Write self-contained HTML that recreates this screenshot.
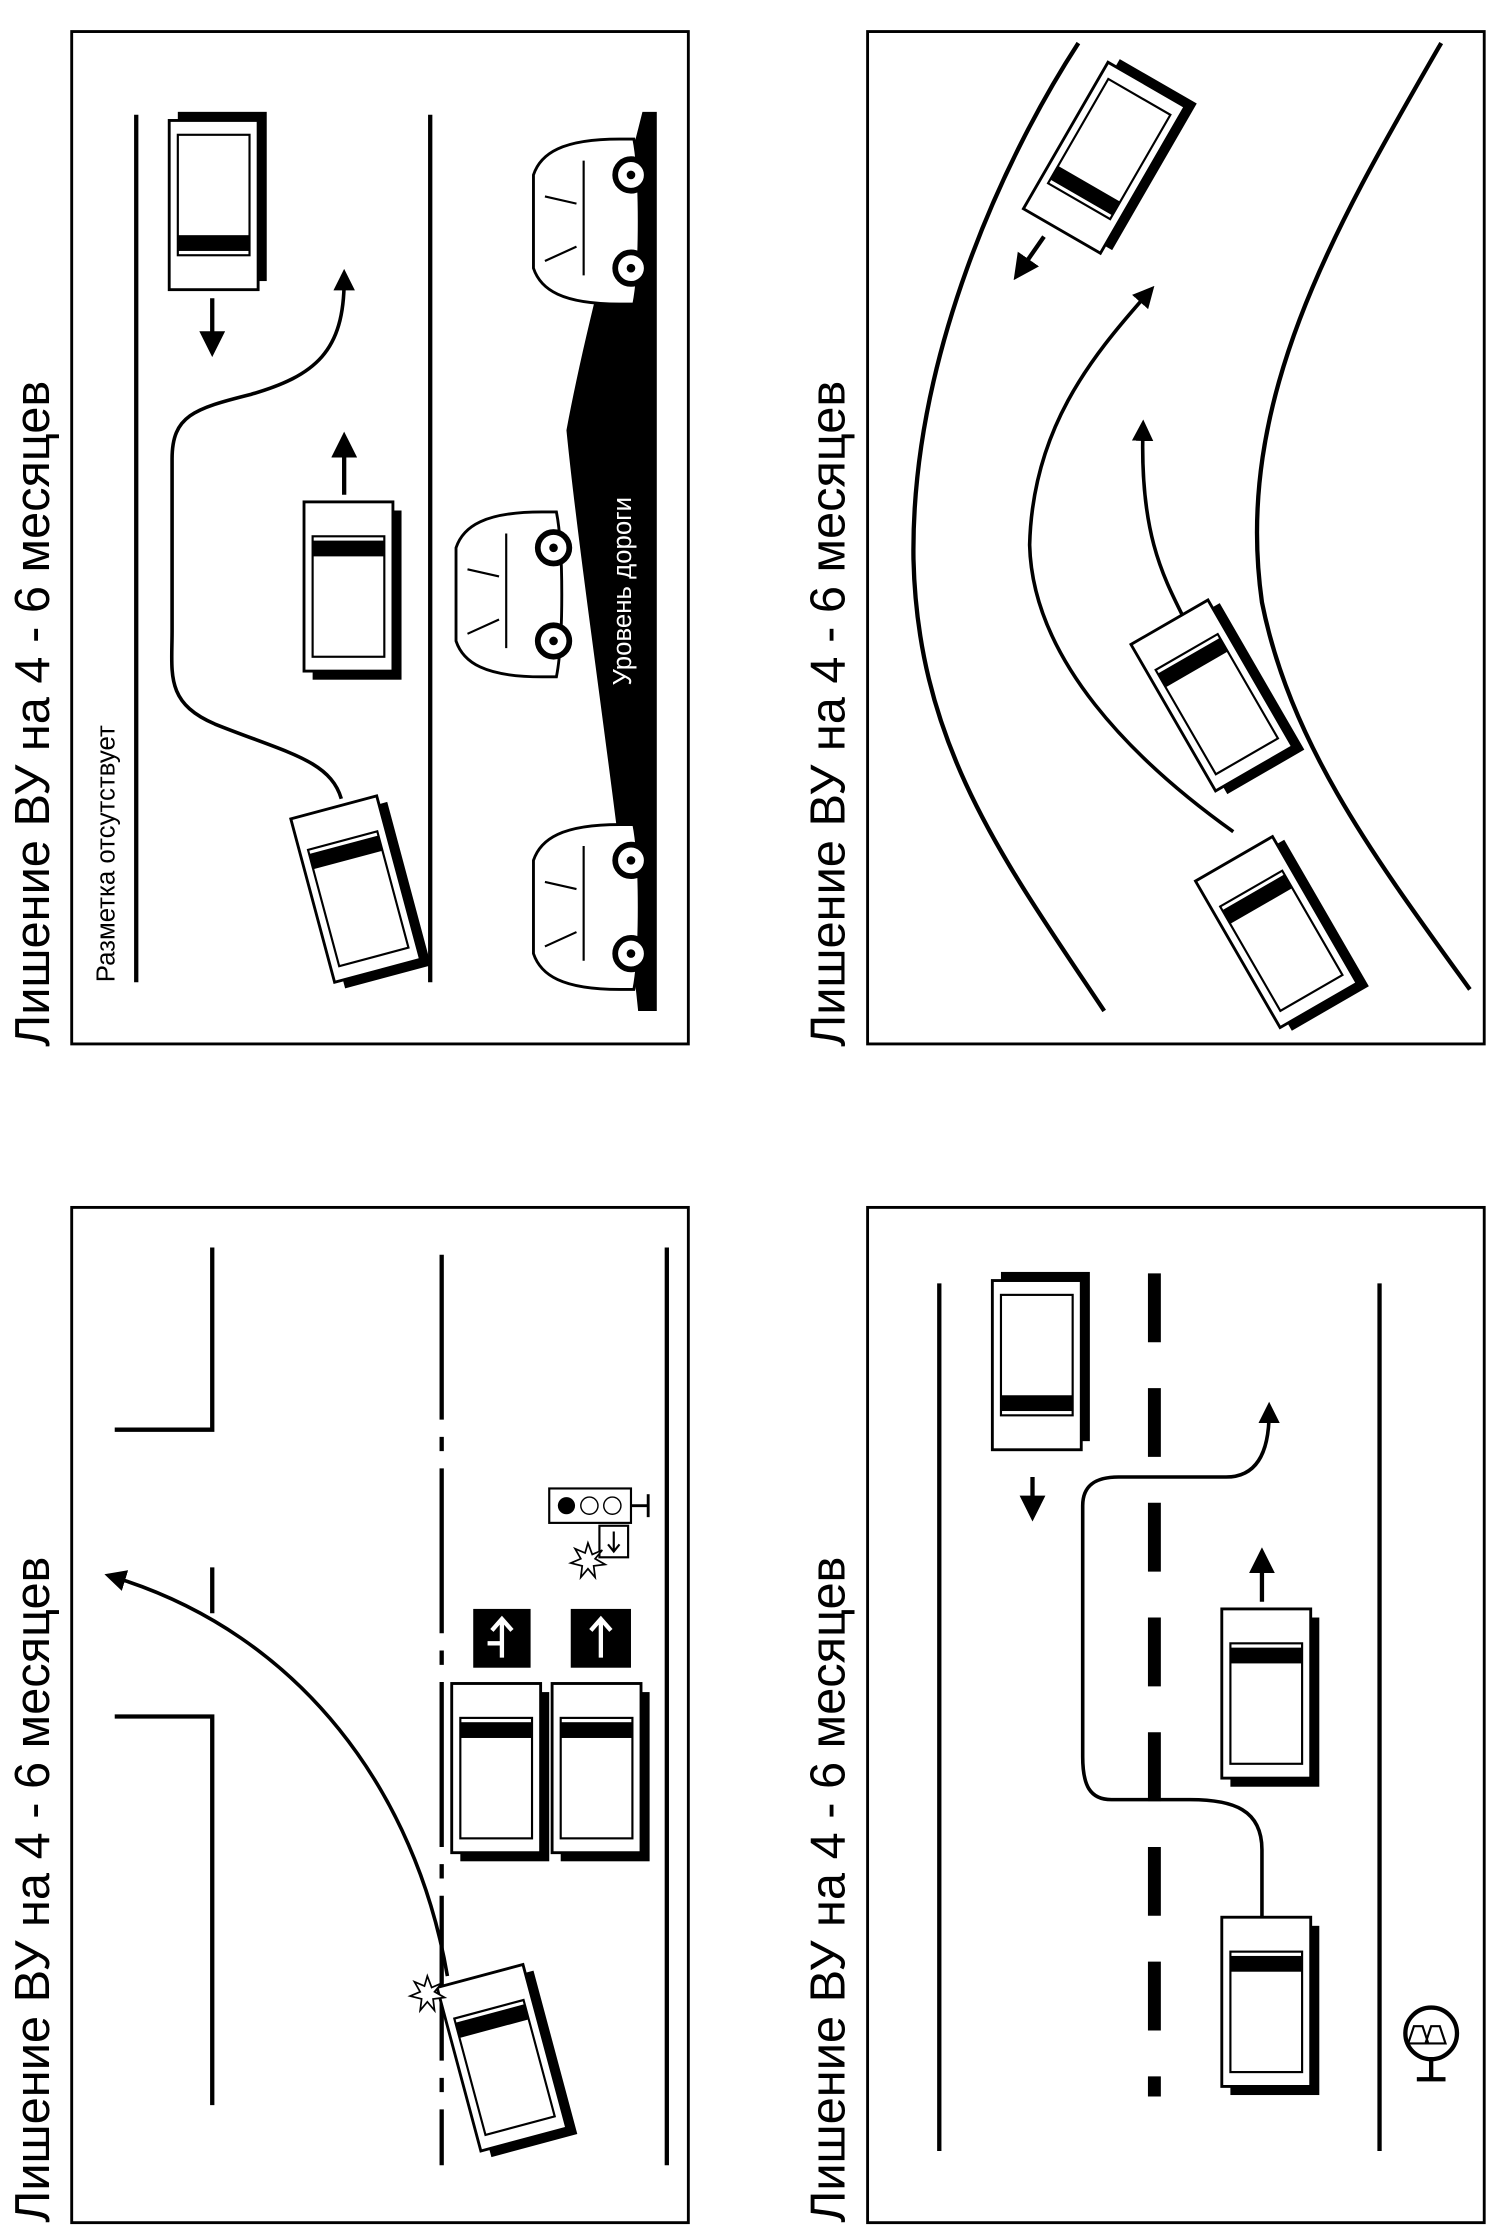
<!DOCTYPE html>
<html><head><meta charset="utf-8"><style>html,body{margin:0;padding:0;background:#fff}svg{display:block}</style></head>
<body>
<svg width="1500" height="2237" viewBox="0 0 1046 1560" preserveAspectRatio="none" xmlns="http://www.w3.org/2000/svg" font-family="Liberation Sans, sans-serif">
<defs>
<g id="t">
<rect x="6" y="-6" width="62" height="118" fill="#000"/>
<rect x="0" y="0" width="62" height="118" fill="#fff" stroke="#000" stroke-width="2"/>
<rect x="6" y="10" width="50" height="84" fill="#fff" stroke="#000" stroke-width="1.5"/>
<rect x="6" y="80" width="50" height="11" fill="#000"/>
</g>
<marker id="ah" viewBox="0 0 10 10" refX="5" refY="5" markerWidth="6" markerHeight="6" orient="auto-start-reverse"><path d="M0,0L10,5L0,10z" fill="#000"/></marker>
<g id="car">
<path d="M0,60 C0,20 10,5 25,0 L90,0 C105,5 115,20 115,60 L115,70 C90,75 25,75 0,70z" fill="#fff" stroke="#000" stroke-width="2"/>
<path d="M30,8 L40,30 M75,8 L70,30 M20,35 H100" stroke="#000" stroke-width="1.5" fill="none"/>
<circle cx="25" cy="68" r="11" fill="#fff" stroke="#000" stroke-width="4"/><circle cx="25" cy="68" r="3"/>
<circle cx="90" cy="68" r="11" fill="#fff" stroke="#000" stroke-width="4"/><circle cx="90" cy="68" r="3"/>
</g>
</defs>
<g fill="none" stroke="#000" stroke-width="2">
<rect x="50" y="22" width="430" height="706"/><rect x="605" y="22" width="430" height="706"/>
<rect x="50" y="842" width="430" height="708"/><rect x="605" y="842" width="430" height="708"/>
</g>
<g font-size="34" fill="#000">
<text transform="translate(34,730) rotate(-90)">Лишение ВУ на 4 - 6 месяцев</text>
<text transform="translate(589,730) rotate(-90)">Лишение ВУ на 4 - 6 месяцев</text>
<text transform="translate(34,1550) rotate(-90)">Лишение ВУ на 4 - 6 месяцев</text>
<text transform="translate(589,1550) rotate(-90)">Лишение ВУ на 4 - 6 месяцев</text>
</g>
<!-- Panel A -->
<g stroke="#000" stroke-width="3" fill="none">
<line x1="95" y1="80" x2="95" y2="685"/><line x1="300" y1="80" x2="300" y2="685"/>
</g>
<path d="M458,78 L448,78 C430,150 408,230 395,300 C405,400 430,560 445,705 L458,705 z" fill="#000"/>
<text transform="translate(440,478) rotate(-90)" fill="#fff" font-size="18">Уровень дороги</text>
<text transform="translate(80,685) rotate(-90)" fill="#000" font-size="18">Разметка отсутствует</text>
<use href="#car" transform="translate(372,212) rotate(-90)"/>
<use href="#car" transform="translate(318,472) rotate(-90)"/>
<use href="#car" transform="translate(372,690) rotate(-90)"/>
<use href="#t" transform="translate(118,84)"/>
<use href="#t" transform="translate(212,468) scale(1,-1)"/>
<use href="#t" transform="translate(248,620) rotate(-15) translate(-31,-59) translate(0,118) scale(1,-1)"/>
<g stroke="#000" stroke-width="3" fill="none">
<line x1="148" y1="208" x2="148" y2="240" marker-end="url(#ah)"/>
<line x1="240" y1="345" x2="240" y2="310" marker-end="url(#ah)"/>
<path d="M238,557 C230,530 200,525 150,505 C115,490 120,470 120,440 L120,320 C120,290 135,285 175,275 C220,262 240,245 240,195" stroke-width="2.5" marker-end="url(#ah)"/>
</g>
<!-- Panel B -->
<g stroke="#000" stroke-width="3" fill="none">
<path d="M770,705 C700,600 640,520 637,390 C635,250 700,110 752,30"/>
<path d="M1025,690 C960,600 900,520 880,420 C860,280 930,160 1005,30"/>
<path d="M860,580 C790,530 720,460 718,380 C720,300 760,250 800,205" stroke-width="2.5" marker-end="url(#ah)"/>
<path d="M825,430 C810,400 795,370 797,300" stroke-width="2.5" marker-end="url(#ah)"/>
<line x1="728" y1="165" x2="712" y2="188" marker-end="url(#ah)"/>
</g>
<use href="#t" transform="translate(770,110) rotate(30) translate(-31,-59)"/>
<use href="#t" transform="translate(845,485) rotate(-30) translate(-31,-59) translate(0,118) scale(1,-1)"/>
<use href="#t" transform="translate(890,650) rotate(-30) translate(-31,-59) translate(0,118) scale(1,-1)"/>
<!-- Panel C -->
<g stroke="#000" stroke-width="3" fill="none">
<polyline points="148,870 148,997 80,997"/>
<polyline points="80,1197 148,1197 148,1468"/>
<line x1="148" y1="1093" x2="148" y2="1125"/>
<line x1="308" y1="875" x2="308" y2="1510" stroke-dasharray="115,12,10,12"/>
<line x1="465" y1="870" x2="465" y2="1510"/>
<path d="M312,1378 C290,1250 210,1140 80,1100" stroke-width="2.5" marker-end="url(#ah)"/>
</g>
<use href="#t" transform="translate(315,1292) scale(1,-1)"/>
<use href="#t" transform="translate(385,1292) scale(1,-1)"/>
<use href="#t" transform="translate(350,1435) rotate(-15) translate(-31,-59) translate(0,118) scale(1,-1)"/>
<rect x="330" y="1122" width="40" height="41" fill="#000"/><rect x="398" y="1122" width="42" height="41" fill="#000"/>
<path d="M350,1156 V1130 M343,1137 L350,1129 L357,1137 M350,1146 H340" stroke="#fff" stroke-width="3" fill="none"/>
<path d="M419,1156 V1130 M412,1137 L419,1129 L426,1137" stroke="#fff" stroke-width="3" fill="none"/>
<rect x="383" y="1038" width="57" height="24" fill="#fff" stroke="#000" stroke-width="1.5"/>
<circle cx="395" cy="1050" r="6"/><circle cx="411" cy="1050" r="6" fill="#fff" stroke="#000"/><circle cx="427" cy="1050" r="6" fill="#fff" stroke="#000"/>
<line x1="440" y1="1050" x2="452" y2="1050" stroke="#000" stroke-width="2"/><line x1="452" y1="1042" x2="452" y2="1058" stroke="#000" stroke-width="2"/>
<rect x="418" y="1064" width="20" height="22" fill="#fff" stroke="#000" stroke-width="1.5"/>
<path d="M428,1068 V1081 M424,1077 L428,1082 L432,1077" stroke="#000" stroke-width="1.5" fill="none"/>
<path d="M410,1076 l3,8 7,-3 -5,6 7,4 -8,1 1,8 -5,-6 -5,6 1,-8 -8,-2 7,-3 -4,-7 7,3z" fill="#fff" stroke="#000" stroke-width="1.2"/>
<path d="M298,1378 l3,8 7,-3 -5,6 7,4 -8,1 1,8 -5,-6 -5,6 1,-8 -8,-2 7,-3 -4,-7 7,3z" fill="#fff" stroke="#000" stroke-width="1.2"/>
<!-- Panel D -->
<g stroke="#000" fill="none">
<line x1="655" y1="895" x2="655" y2="1500" stroke-width="3"/>
<line x1="962" y1="895" x2="962" y2="1500" stroke-width="3"/>
<line x1="805" y1="888" x2="805" y2="1462" stroke-width="9" stroke-dasharray="48,32"/>
<path d="M880,1340 V1290 C880,1262 860,1255 830,1255 H775 C760,1255 755,1245 755,1225 V1050 C755,1035 765,1030 780,1030 H855 C875,1030 885,1015 885,985" stroke-width="2.5" marker-end="url(#ah)"/>
<line x1="720" y1="1030" x2="720" y2="1052" stroke-width="3" marker-end="url(#ah)"/>
<line x1="880" y1="1117" x2="880" y2="1088" stroke-width="3" marker-end="url(#ah)"/>
</g>
<use href="#t" transform="translate(692,893)"/>
<use href="#t" transform="translate(852,1240) scale(1,-1)"/>
<use href="#t" transform="translate(852,1455) scale(1,-1)"/>
<circle cx="998" cy="1418" r="18" fill="#fff" stroke="#000" stroke-width="3"/>
<path d="M986,1425 l4,-12 h6 l4,12z M998,1425 l4,-12 h6 l4,12z" fill="#fff" stroke="#000" stroke-width="1.5" transform="translate(-4,0)"/>
<line x1="998" y1="1436" x2="998" y2="1450" stroke="#000" stroke-width="3"/><line x1="988" y1="1450" x2="1008" y2="1450" stroke="#000" stroke-width="3"/>
</svg>
</body></html>
